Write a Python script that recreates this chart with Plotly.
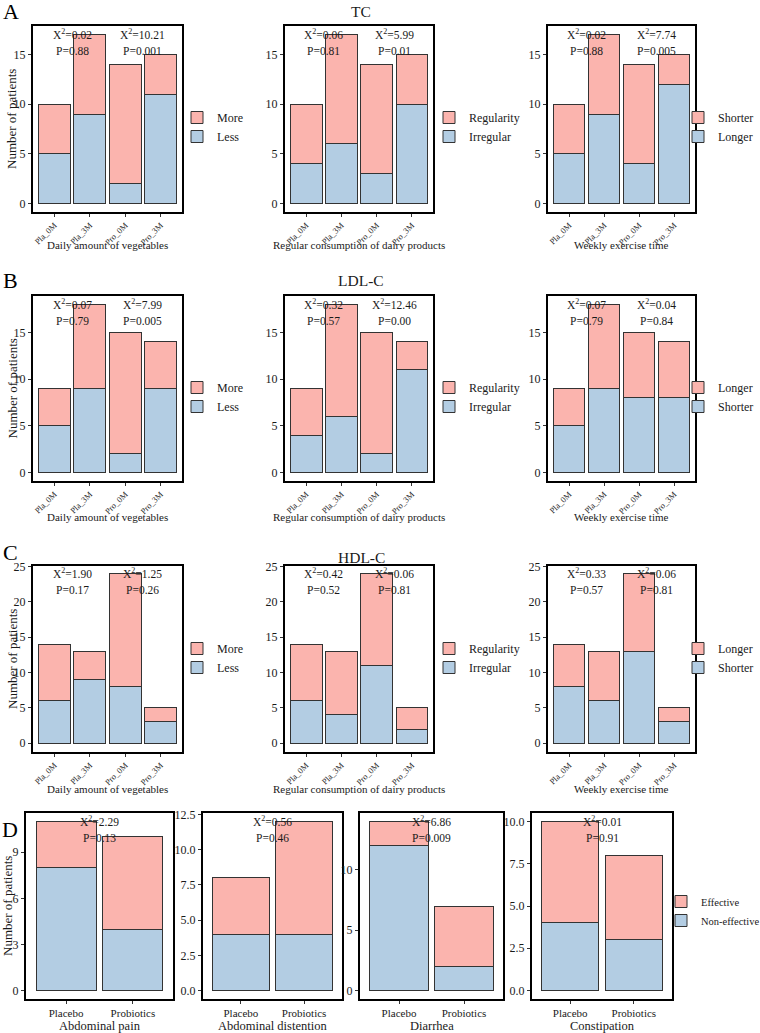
import plotly.graph_objects as go

W, H = 760, 1033

# ---------------- data ----------------
groups = ["Pla_0M", "Pla_3M", "Pro_0M", "Pro_3M"]
treatments = ["Placebo", "Probiotics"]

# TC
tc_veg_less = [5, 9, 2, 11]
tc_veg_more = [5, 8, 12, 4]
tc_dairy_irregular = [4, 6, 3, 10]
tc_dairy_regularity = [6, 11, 11, 5]
tc_ex_longer = [5, 9, 4, 12]
tc_ex_shorter = [5, 8, 10, 3]
tc_veg_stats = [("0.02", "0.88"), ("10.21", "0.001")]
tc_dairy_stats = [("0.06", "0.81"), ("5.99", "0.01")]
tc_ex_stats = [("0.02", "0.88"), ("7.74", "0.005")]

# LDL-C
ldl_veg_less = [5, 9, 2, 9]
ldl_veg_more = [4, 9, 13, 5]
ldl_dairy_irregular = [4, 6, 2, 11]
ldl_dairy_regularity = [5, 12, 13, 3]
ldl_ex_shorter = [5, 9, 8, 8]
ldl_ex_longer = [4, 9, 7, 6]
ldl_veg_stats = [("0.07", "0.79"), ("7.99", "0.005")]
ldl_dairy_stats = [("0.32", "0.57"), ("12.46", "0.00")]
ldl_ex_stats = [("0.07", "0.79"), ("0.04", "0.84")]

# HDL-C
hdl_veg_less = [6, 9, 8, 3]
hdl_veg_more = [8, 4, 16, 2]
hdl_dairy_irregular = [6, 4, 11, 2]
hdl_dairy_regularity = [8, 9, 13, 3]
hdl_ex_shorter = [8, 6, 13, 3]
hdl_ex_longer = [6, 7, 11, 2]
hdl_veg_stats = [("1.90", "0.17"), ("1.25", "0.26")]
hdl_dairy_stats = [("0.42", "0.52"), ("0.06", "0.81")]
hdl_ex_stats = [("0.33", "0.57"), ("0.06", "0.81")]

# GI symptoms
pain_non = [8, 4]
pain_eff = [3, 6]
dist_non = [4, 4]
dist_eff = [4, 8]
diar_non = [12, 2]
diar_eff = [2, 5]
const_non = [4, 3]
const_eff = [6, 5]
pain_stats = [("2.29", "0.13")]
dist_stats = [("0.56", "0.46")]
diar_stats = [("6.86", "0.009")]
const_stats = [("0.01", "0.91")]

# ---------------- style ----------------
PINK = "#FBB4AE"
BLUE = "#B3CDE3"
EDGE = "#333333"
FONT = "Liberation Serif, Times New Roman, serif"
TXT = "#1a1a1a"

def px(x):
    return x / W

def py(y):
    return 1 - y / H

fig = go.Figure()
annotations = []

rows_y = {"A": (26, 212), "B": (296, 481), "C": (566, 752), "D": (813, 999)}
cols_abc = [(33, 182), (285, 433), (548, 695)]
cols_d = [(26, 173), (203, 342), (360, 503), (532, 672)]
legend_x_abc = [177, 429, 678]
legend_x_d = 661
legend_cy = {"A": 127, "B": 397, "C": 658, "D": 911}
xtitle_y = {"A": 245, "B": 517, "C": 789, "D": 1026}

panels = [
    ("A", 0, groups, tc_veg_less, "Less", tc_veg_more, "More", "Daily amount of vegetables", tc_veg_stats),
    ("A", 1, groups, tc_dairy_irregular, "Irregular", tc_dairy_regularity, "Regularity", "Regular consumption of dairy products", tc_dairy_stats),
    ("A", 2, groups, tc_ex_longer, "Longer", tc_ex_shorter, "Shorter", "Weekly exercise time", tc_ex_stats),
    ("B", 0, groups, ldl_veg_less, "Less", ldl_veg_more, "More", "Daily amount of vegetables", ldl_veg_stats),
    ("B", 1, groups, ldl_dairy_irregular, "Irregular", ldl_dairy_regularity, "Regularity", "Regular consumption of dairy products", ldl_dairy_stats),
    ("B", 2, groups, ldl_ex_shorter, "Shorter", ldl_ex_longer, "Longer", "Weekly exercise time", ldl_ex_stats),
    ("C", 0, groups, hdl_veg_less, "Less", hdl_veg_more, "More", "Daily amount of vegetables", hdl_veg_stats),
    ("C", 1, groups, hdl_dairy_irregular, "Irregular", hdl_dairy_regularity, "Regularity", "Regular consumption of dairy products", hdl_dairy_stats),
    ("C", 2, groups, hdl_ex_shorter, "Shorter", hdl_ex_longer, "Longer", "Weekly exercise time", hdl_ex_stats),
    ("D", 0, treatments, pain_non, "Non-effective", pain_eff, "Effective", "Abdominal pain", pain_stats),
    ("D", 1, treatments, dist_non, "Non-effective", dist_eff, "Effective", "Abdominal distention", dist_stats),
    ("D", 2, treatments, diar_non, "Non-effective", diar_eff, "Effective", "Diarrhea", diar_stats),
    ("D", 3, treatments, const_non, "Non-effective", const_eff, "Effective", "Constipation", const_stats),
]

d_ticks = {0: (3, None), 1: (2.5, ".1f"), 2: (5, None), 3: (2.5, ".1f")}

def paper_text(text, x, y, size, angle=0, color=TXT):
    return dict(x=px(x), y=py(y), xref="paper", yref="paper", showarrow=False,
                xanchor="center", yanchor="middle", text=text, textangle=angle,
                font=dict(family=FONT, size=size, color=color))

layout_updates = {}
for i, (row, col, cats, low, lown, high, highn, xtitle, stats) in enumerate(panels):
    n = i + 1
    xa = "x" if n == 1 else f"x{n}"
    ya = "y" if n == 1 else f"y{n}"
    xkey = "xaxis" if n == 1 else f"xaxis{n}"
    ykey = "yaxis" if n == 1 else f"yaxis{n}"
    lkey = "legend" if n == 1 else f"legend{n}"
    top, bot = rows_y[row]
    if row == "D":
        x0, x1 = cols_d[col]
        show_leg = col == 3
        leg_x = legend_x_d
    else:
        x0, x1 = cols_abc[col]
        show_leg = True
        leg_x = legend_x_abc[col]

    totals = [a + b for a, b in zip(low, high)]
    ymax = max(totals)

    fig.add_trace(go.Bar(x=cats, y=low, name=lown, xaxis=xa, yaxis=ya, legend=lkey,
                         showlegend=show_leg,
                         marker=dict(color=BLUE, line=dict(color=EDGE, width=1))))
    fig.add_trace(go.Bar(x=cats, y=high, name=highn, xaxis=xa, yaxis=ya, legend=lkey,
                         showlegend=show_leg,
                         marker=dict(color=PINK, line=dict(color=EDGE, width=1))))

    ncat = len(cats)
    if row == "C":
        yrange = [-1.25, 25.05]
        dtick, tfmt = 5, None
    else:
        yrange = [-0.05 * ymax, 1.05 * ymax]
        if row == "D":
            dtick, tfmt = d_ticks[col]
        else:
            dtick, tfmt = 5, None

    axis_common = dict(showline=True, linecolor="black", linewidth=2, mirror=True,
                       ticks="outside", ticklen=3, tickwidth=1, tickcolor=EDGE,
                       showgrid=False, zeroline=False,
                       tickfont=dict(family=FONT, size=12, color=TXT))
    xdict = dict(axis_common, domain=[px(x0), px(x1)], anchor=ya,
                 range=[-0.6, ncat - 0.4], type="category")
    if row == "D":
        xdict["tickfont"] = dict(family=FONT, size=11, color=TXT)
    else:
        xdict["tickangle"] = -45
        xdict["tickfont"] = dict(family=FONT, size=8.5, color=TXT)
    ydict = dict(axis_common, domain=[py(bot), py(top)], anchor=xa,
                 range=yrange, tick0=0, dtick=dtick)
    if tfmt:
        ydict["tickformat"] = tfmt
    layout_updates[xkey] = xdict
    layout_updates[ykey] = ydict

    if show_leg:
        layout_updates[lkey] = dict(
            visible=True,
            x=px(leg_x), y=py(legend_cy[row]), xanchor="left", yanchor="middle",
            xref="paper", yref="paper",
            traceorder="reversed", bgcolor="rgba(0,0,0,0)",
            font=dict(family=FONT, size=12 if row != "D" else 10.5, color=TXT),
            tracegroupgap=0, itemclick=False, itemdoubleclick=False,
        )

    xs = [0.5, 2.5] if ncat == 4 else [0.5]
    for xv, (chi, p) in zip(xs, stats):
        annotations.append(dict(x=xv, y=ymax, xref=xa, yref=ya, showarrow=False,
                                xanchor="center", yanchor="middle",
                                text=f"X<sup>2</sup>={chi}",
                                font=dict(family=FONT, size=11.5, color=TXT)))
        annotations.append(dict(x=xv, y=0.9 * ymax, xref=xa, yref=ya, showarrow=False,
                                xanchor="center", yanchor="middle",
                                text=f"P={p}",
                                font=dict(family=FONT, size=11.5, color=TXT)))

    annotations.append(paper_text(xtitle, (x0 + x1) / 2, xtitle_y[row],
                                  12.5 if row == "D" else 11))
    if col == 0:
        annotations.append(paper_text("Number of patients", 12 if row != "D" else 7,
                                      (top + bot) / 2, 13, angle=-90))

for t, cy in [("TC", 12), ("LDL-C", 281), ("HDL-C", 557)]:
    annotations.append(paper_text(t, 361, cy, 15.5))
for t, cx, cy in [("A", 11, 11), ("B", 10, 281), ("C", 10, 552), ("D", 10, 829)]:
    annotations.append(paper_text(t, cx, cy, 22, color="black"))

fig.update_layout(
    width=W, height=H,
    margin=dict(l=0, r=0, t=0, b=0, pad=0, autoexpand=False),
    paper_bgcolor="white", plot_bgcolor="white",
    barmode="stack", bargap=0.1, showlegend=True,
    font=dict(family=FONT, color=TXT),
    annotations=annotations,
    **layout_updates,
)

fig.write_html("out.html", config={"displayModeBar": False},
               post_script="document.body.style.margin='0';")
